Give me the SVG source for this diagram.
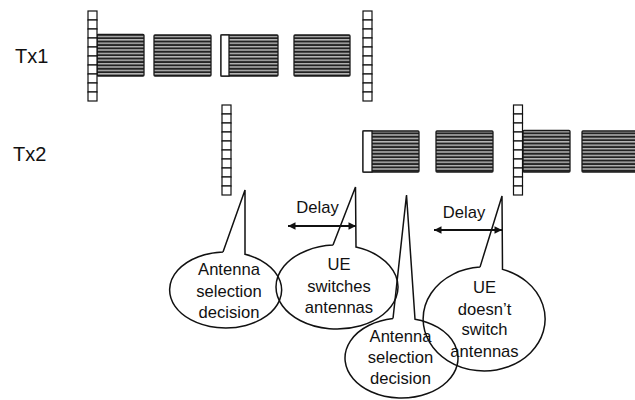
<svg xmlns="http://www.w3.org/2000/svg" width="635" height="400" viewBox="0 0 635 400">
  <style>
    .txlbl { font-family: "Liberation Sans", Arial, sans-serif; font-size: 20px; fill: #111; }
    .lbl { font-family: "Liberation Sans", Arial, sans-serif; font-size: 16.6px; fill: #111; text-anchor: middle; }
    .cell { fill: #fff; stroke: #111; stroke-width: 1.2; }
    .blk { fill: url(#hatch); stroke: #1a1a1a; stroke-width: 1.3; }
    .white { fill: #fff; stroke: #1a1a1a; stroke-width: 1.3; }
    .callout { fill: none; stroke: #111; stroke-width: 1.5; stroke-linejoin: miter; }
    .arrow { stroke: #111; stroke-width: 1.8; fill: none; marker-start: url(#ah); marker-end: url(#ah); }
  </style>
  <defs>
    <pattern id="hatch" patternUnits="userSpaceOnUse" width="8" height="3.4">
      <rect x="0" y="0" width="8" height="3.4" fill="#222"/>
      <rect x="0" y="1.9" width="8" height="1.1" fill="#e6e6e6"/>
    </pattern>
    <marker id="ah" viewBox="0 0 10 10" refX="10" refY="5" markerUnits="userSpaceOnUse" markerWidth="10" markerHeight="7.5" orient="auto-start-reverse">
      <path d="M0 0 L10 5 L0 10 z" fill="#111"/>
    </marker>
    <g id="column">
      <rect class="cell" x="0" y="0" width="9" height="9"/>
      <rect class="cell" x="0" y="9" width="9" height="9"/>
      <rect class="cell" x="0" y="18" width="9" height="9"/>
      <rect class="cell" x="0" y="27" width="9" height="9"/>
      <rect class="cell" x="0" y="36" width="9" height="9"/>
      <rect class="cell" x="0" y="45" width="9" height="9"/>
      <rect class="cell" x="0" y="54" width="9" height="9"/>
      <rect class="cell" x="0" y="63" width="9" height="9"/>
      <rect class="cell" x="0" y="72" width="9" height="9"/>
      <rect class="cell" x="0" y="81" width="9" height="9"/>
    </g>
  </defs>
  <rect width="635" height="400" fill="#fff"/>

  <!-- Tx1 row -->
  <g id="tx1">
    <text class="txlbl" x="15" y="62.5">Tx1</text>
    <rect class="blk" x="97" y="34.5" width="47" height="41.5" rx="1"/>
    <rect class="blk" x="154" y="35" width="57" height="41" rx="1"/>
    <rect class="blk" x="221" y="35" width="57" height="41" rx="1"/>
    <rect class="white" x="221" y="35" width="8" height="41"/>
    <rect class="blk" x="294" y="35" width="56" height="41" rx="1"/>
    <use href="#column" x="88" y="11"/>
    <use href="#column" x="363" y="11"/>
  </g>

  <!-- Tx2 row -->
  <g id="tx2">
    <text class="txlbl" x="13" y="160.5">Tx2</text>
    <use href="#column" x="222" y="105"/>
    <rect class="blk" x="363" y="131" width="56" height="41" rx="1"/>
    <rect class="white" x="363" y="131" width="9" height="41"/>
    <rect class="blk" x="436" y="131" width="57" height="41" rx="1"/>
    <rect class="blk" x="523" y="130.5" width="47" height="41.5" rx="1"/>
    <rect class="blk" x="582" y="131" width="60" height="41" rx="1"/>
    <use href="#column" x="513.5" y="105"/>
  </g>

  <!-- connectors: delay arrows -->
  <g id="connectors">
    <line class="arrow" x1="288" y1="226" x2="356" y2="226"/>
    <line class="arrow" x1="434" y1="230" x2="502" y2="230"/>
  </g>

  <g id="delay1">
    <text class="lbl" x="317.5" y="212.5">Delay</text>
  </g>
  <g id="delay2">
    <text class="lbl" x="464" y="218">Delay</text>
  </g>

  <!-- callouts -->
  <g id="callout1">
    <path class="callout" d="M 223 252 L 245 190 L 245 254.3 A 56 38 0 1 1 223 252"/>
    <text class="lbl" x="229" y="275">Antenna</text>
    <text class="lbl" x="229" y="296.5">selection</text>
    <text class="lbl" x="229" y="318">decision</text>
  </g>
  <g id="callout2">
    <path class="callout" d="M 333 245.1 L 355.5 187 L 356 247.1 A 61 42 0 1 1 333 245.1"/>
    <text class="lbl" x="339" y="270">UE</text>
    <text class="lbl" x="339" y="291.5">switches</text>
    <text class="lbl" x="339" y="313">antennas</text>
  </g>
  <g id="callout3">
    <path class="callout" d="M 393 318.5 L 406.5 195 L 415 319.2 A 56.5 40 0 1 1 393 318.5"/>
    <text class="lbl" x="400.5" y="341.5">Antenna</text>
    <text class="lbl" x="400.5" y="362.5">selection</text>
    <text class="lbl" x="400.5" y="383.5">decision</text>
  </g>
  <g id="callout4">
    <path class="callout" d="M 480 267.1 L 502 196 L 502.5 269.4 A 61 52 0 1 1 480 267.1"/>
    <text class="lbl" x="484.5" y="293">UE</text>
    <text class="lbl" x="484.5" y="314.5">doesn’t</text>
    <text class="lbl" x="484.5" y="335">switch</text>
    <text class="lbl" x="484.5" y="356.5">antennas</text>
  </g>
</svg>
